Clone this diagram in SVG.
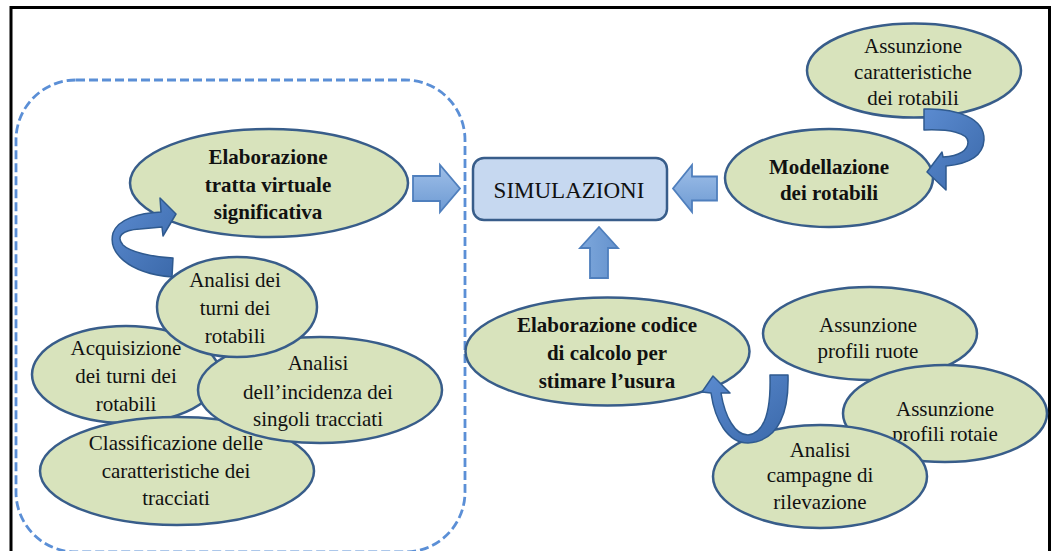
<svg xmlns="http://www.w3.org/2000/svg" width="1053" height="551" viewBox="0 0 1053 551">
  <defs>
    <linearGradient id="blockArrow" x1="0" y1="0" x2="0" y2="1">
      <stop offset="0" stop-color="#9fbfe8"/>
      <stop offset="1" stop-color="#6d9ad3"/>
    </linearGradient>
    <linearGradient id="blockArrowV" x1="0" y1="0" x2="1" y2="0">
      <stop offset="0" stop-color="#7ea8dc"/>
      <stop offset="1" stop-color="#6592cd"/>
    </linearGradient>
    <linearGradient id="curlArrow" x1="0" y1="0" x2="1" y2="1">
      <stop offset="0" stop-color="#5b8bd0"/>
      <stop offset="1" stop-color="#3b69aa"/>
    </linearGradient>
  </defs>
  <style>
    .frame { fill: none; stroke: #000; stroke-width: 3; }
    .group-box { fill: none; stroke: #5b8fd6; stroke-width: 2.8; stroke-dasharray: 9 4; }
    .bubble { fill: #d8e3bc; stroke: #385d8a; stroke-width: 2.5; }
    .hub { fill: #c6d8f0; stroke: #385d8a; stroke-width: 2.5; }
    .t { font-family: 'Liberation Serif', 'Times New Roman', serif; font-size: 21px; fill: #111; text-anchor: middle; }
    .b { font-weight: bold; }
    .block { fill: url(#blockArrow); stroke: #4f7fbd; stroke-width: 1.8; stroke-linejoin: miter; }
    .block-v { fill: url(#blockArrowV); stroke: #4f7fbd; stroke-width: 1.8; }
    .curl { fill: url(#curlArrow); stroke: #2f5a8f; stroke-width: 1.5; stroke-linejoin: round; }
  </style>

  <rect class="frame" x="11" y="7.5" width="1038.5" height="600"/>

  <!-- dashed grouping around the route-analysis steps -->
  <rect id="route-group" class="group-box" x="16" y="80" width="449" height="472" rx="60" ry="60"/>

  <g id="tratta-virtuale">
    <ellipse class="bubble" cx="269" cy="183" rx="139" ry="54"/>
    <text class="t b" x="268" y="164">Elaborazione</text>
    <text class="t b" x="268" y="192">tratta virtuale</text>
    <text class="t b" x="268" y="219">significativa</text>
  </g>

  <g id="acquisizione-turni">
    <ellipse class="bubble" cx="126" cy="374.5" rx="94" ry="48.5"/>
    <text class="t" x="126" y="355">Acquisizione</text>
    <text class="t" x="126" y="383">dei turni dei</text>
    <text class="t" x="126" y="411">rotabili</text>
  </g>

  <g id="classificazione-tracciati">
    <ellipse class="bubble" cx="177" cy="471" rx="137" ry="54"/>
    <text class="t" x="176" y="450">Classificazione delle</text>
    <text class="t" x="176" y="478">caratteristiche dei</text>
    <text class="t" x="176" y="505">tracciati</text>
  </g>

  <g id="incidenza-tracciati">
    <ellipse class="bubble" cx="320" cy="390" rx="122" ry="53"/>
    <text class="t" x="318" y="370">Analisi</text>
    <text class="t" x="318" y="399">dell’incidenza dei</text>
    <text class="t" x="318" y="426">singoli tracciati</text>
  </g>

  <g id="analisi-turni">
    <ellipse class="bubble" cx="237" cy="307" rx="80" ry="50"/>
    <text class="t" x="235" y="287">Analisi dei</text>
    <text class="t" x="235" y="315">turni dei</text>
    <text class="t" x="235" y="343">rotabili</text>
  </g>

  <g id="simulazioni">
    <rect class="hub" x="473" y="158" width="194" height="62" rx="11" ry="11"/>
    <text class="t" style="font-size: 23px" x="569" y="198">SIMULAZIONI</text>
  </g>

  <g id="assunzione-caratteristiche">
    <ellipse class="bubble" cx="914" cy="70.5" rx="107" ry="47"/>
    <text class="t" x="913" y="53">Assunzione</text>
    <text class="t" x="913" y="79">caratteristiche</text>
    <text class="t" x="913" y="105">dei rotabili</text>
  </g>

  <g id="modellazione-rotabili">
    <ellipse class="bubble" cx="829" cy="178" rx="104" ry="49"/>
    <text class="t b" x="829" y="174">Modellazione</text>
    <text class="t b" x="829" y="200">dei rotabili</text>
  </g>

  <g id="codice-usura">
    <ellipse class="bubble" cx="607.5" cy="351.5" rx="142" ry="54"/>
    <text class="t b" x="607" y="332">Elaborazione codice</text>
    <text class="t b" x="607" y="360">di calcolo per</text>
    <text class="t b" x="607" y="388">stimare l’usura</text>
  </g>

  <g id="profili-ruote">
    <ellipse class="bubble" cx="870" cy="333.5" rx="107" ry="46.5"/>
    <text class="t" x="868" y="332">Assunzione</text>
    <text class="t" x="868" y="358">profili ruote</text>
  </g>

  <g id="profili-rotaie">
    <ellipse class="bubble" cx="945" cy="413.5" rx="102" ry="48.5"/>
    <text class="t" x="945" y="416">Assunzione</text>
    <text class="t" x="945" y="441">profili rotaie</text>
  </g>

  <g id="campagne-rilevazione">
    <ellipse class="bubble" cx="820" cy="476.5" rx="107" ry="51.5"/>
    <text class="t" x="820" y="457">Analisi</text>
    <text class="t" x="820" y="482">campagne di</text>
    <text class="t" x="820" y="509">rilevazione</text>
  </g>

  <g id="connectors">
    <!-- block arrows into SIMULAZIONI -->
    <polygon class="block" points="413,176 440,176 440,165 460,188.5 440,212 440,201 413,201"/>
    <polygon class="block" points="717,176.5 692,176.5 692,165 673,188.5 692,212 692,200.5 717,200.5"/>
    <polygon class="block-v" points="590,278 590,248 580,248 599,227 618,248 608,248 608,278"/>

    <!-- curled arrow: turni dei rotabili -> tratta virtuale -->
    <path class="curl" d="M173,258 C152,257 130,252 123,245 C116,237 121,230 140,229 L162,227 L163,236 L176,214 L160,198 L161,212 C139,213 118,219 113,233 C108,252 127,273 172,277 Z"/>

    <!-- curled arrow: caratteristiche -> modellazione -->
    <path class="curl" d="M924,109 C956,108 985,118 984,140 C983,157 968,164 946,166 L946,190 L927,172 L942,152 L943,157 C960,156 968,150 968,142 C968,133 950,129 924,130 Z"/>

    <!-- curled arrow: campagne di rilevazione -> codice usura -->
    <path class="curl" d="M770,375 L788,375 C789,410 780,441 748,443 C728,443 715,421 711,393 L702,392 L713,376 L730,393 L721,393 C725,417 735,435 748,435 C765,433 771,410 770,375 Z"/>
  </g>
</svg>
